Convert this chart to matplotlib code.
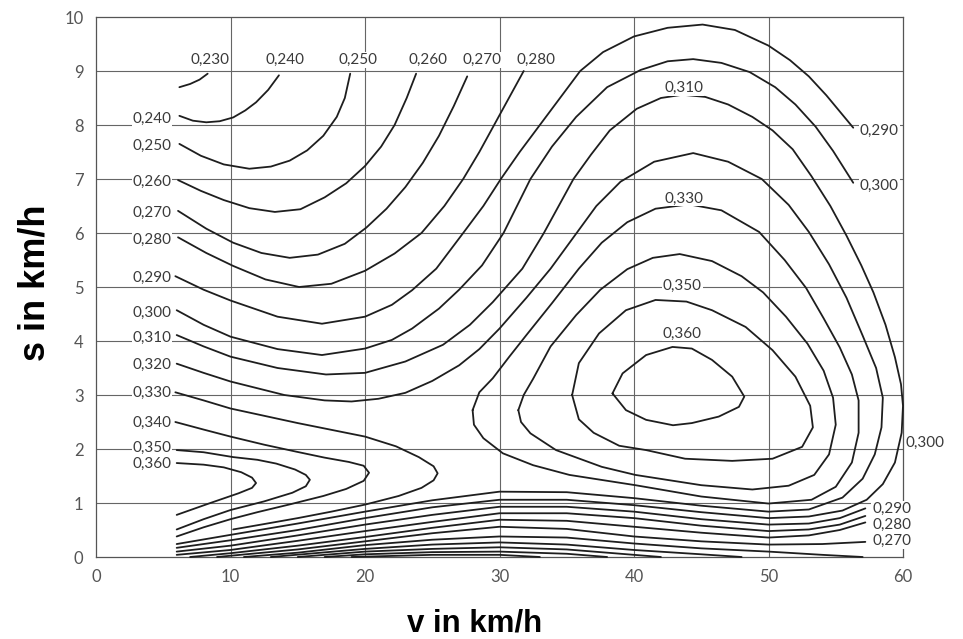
import matplotlib
matplotlib.use("Agg")
import matplotlib.pyplot as plt

plt.rcParams['font.family'] = ['Lato', 'DejaVu Sans']

# contour lines, (v, s) pairs
c230 = [(6.2, 8.70), (7.0, 8.76), (7.7, 8.84), (8.3, 8.95)]
c240 = [(6.2, 8.17), (7.2, 8.08), (8.2, 8.05), (9.2, 8.07), (10.2, 8.14), (11.1, 8.27),
        (11.9, 8.42), (12.8, 8.65), (13.6, 8.92)]
c250 = [(6.2, 7.65), (7.8, 7.43), (9.5, 7.27), (11.4, 7.19), (13.0, 7.23), (14.4, 7.34),
        (15.7, 7.53), (16.9, 7.80), (17.9, 8.15), (18.5, 8.5), (18.9, 8.95)]
c260 = [(6.1, 6.98), (7.8, 6.78), (9.5, 6.61), (11.4, 6.46), (13.3, 6.39), (15.2, 6.44),
        (17.0, 6.66), (18.6, 6.92), (20.0, 7.24), (21.2, 7.6), (22.2, 8.0), (23.1, 8.5), (23.8, 8.95)]
c270 = [(6.1, 6.41), (8.2, 6.08), (10.2, 5.82), (12.3, 5.63), (14.4, 5.54), (16.5, 5.6),
        (18.5, 5.8), (20.1, 6.1), (21.6, 6.45), (23.0, 6.85), (24.3, 7.3), (25.5, 7.8),
        (26.6, 8.35), (27.6, 8.9)]
c280 = [(6.1, 5.92), (8.2, 5.63), (10.2, 5.39), (12.6, 5.14), (15.1, 5.0), (17.5, 5.06),
        (20.0, 5.3), (22.2, 5.62), (24.2, 6.0), (25.9, 6.5), (27.3, 7.0), (28.5, 7.5),
        (29.6, 8.0), (30.7, 8.5), (31.8, 9.0)]
c290 = [(5.9, 5.2), (8.0, 4.95), (10.0, 4.75), (13.5, 4.45), (16.8, 4.32), (20.0, 4.45),
        (22.0, 4.67), (23.5, 4.94), (25.3, 5.34), (27.3, 6.0), (28.8, 6.5), (30.1, 7.0),
        (31.5, 7.5), (33.0, 8.0), (34.5, 8.5), (36.0, 9.0), (37.7, 9.35), (40.0, 9.64),
        (42.5, 9.8), (45.1, 9.86), (47.5, 9.76), (50.0, 9.47), (51.6, 9.2), (53.0, 8.9),
        (54.3, 8.55), (55.4, 8.22), (56.3, 7.95)]
c300 = [(6.0, 4.57), (8.0, 4.3), (10.0, 4.08), (13.5, 3.85), (16.8, 3.74), (20.0, 3.86),
        (22.0, 4.02), (23.5, 4.23), (25.5, 4.6), (27.0, 4.95), (28.7, 5.4), (30.3, 6.0),
        (31.3, 6.5), (32.3, 7.0), (33.9, 7.6), (35.7, 8.15), (38.0, 8.7), (40.5, 9.02),
        (42.5, 9.18), (44.4, 9.22), (46.5, 9.15), (48.6, 8.98), (50.5, 8.7), (52.0, 8.38),
        (53.5, 7.97), (54.8, 7.52), (56.3, 6.93)]
c310 = [(6.0, 4.11), (8.0, 3.9), (10.0, 3.71), (13.5, 3.5), (17.1, 3.38), (20.0, 3.41),
        (23.0, 3.62), (25.8, 3.93), (27.8, 4.3), (29.5, 4.72), (31.7, 5.34), (33.3, 6.0),
        (34.4, 6.5), (35.5, 7.0), (36.8, 7.45), (38.2, 7.9), (40.2, 8.3), (42.0, 8.5),
        (43.6, 8.56), (45.3, 8.52), (47.0, 8.38), (48.8, 8.15), (50.3, 7.9), (51.8, 7.55),
        (53.2, 7.05), (54.6, 6.5), (55.8, 5.95), (56.9, 5.4), (57.8, 4.9), (58.7, 4.3),
        (59.4, 3.7), (59.85, 3.2), (60.0, 2.8), (59.9, 2.3), (59.4, 1.75), (58.5, 1.35),
        (57.3, 1.06), (55.5, 0.86), (53.0, 0.75), (50.0, 0.72), (45.0, 0.83), (40.0, 0.96),
        (35.0, 1.06), (30.0, 1.06), (25.0, 0.92), (20.0, 0.72), (15.0, 0.5), (10.0, 0.31),
        (6.0, 0.17)]
c320 = [(6.0, 3.58), (8.0, 3.41), (10.0, 3.25), (14.0, 3.0), (17.0, 2.9), (19.0, 2.88),
        (21.0, 2.93), (23.0, 3.04), (25.0, 3.26), (27.0, 3.55), (28.5, 3.85), (30.0, 4.23),
        (32.0, 4.8), (33.8, 5.34), (35.5, 5.92), (37.2, 6.5), (39.0, 6.95), (41.5, 7.32),
        (44.4, 7.48), (47.0, 7.32), (49.5, 7.0), (51.5, 6.52), (53.0, 6.02), (54.5, 5.42),
        (55.8, 4.8), (57.0, 4.1), (58.0, 3.5), (58.5, 2.95), (58.4, 2.4), (57.9, 1.9),
        (57.0, 1.45), (55.5, 1.1), (53.0, 0.88), (50.0, 0.84), (45.0, 0.95), (40.0, 1.09),
        (35.0, 1.2), (30.0, 1.21), (25.0, 1.05), (20.0, 0.84), (15.0, 0.62), (10.0, 0.41),
        (6.0, 0.24)]
c330_left = [(5.9, 3.05), (8.0, 2.9), (10.0, 2.75), (15.0, 2.48), (20.0, 2.23), (22.3, 2.05),
             (24.0, 1.85), (25.1, 1.68), (25.4, 1.55), (25.1, 1.42), (24.2, 1.28), (22.5, 1.13),
             (20.0, 0.97), (17.5, 0.84), (15.0, 0.72), (12.5, 0.61), (10.2, 0.51)]
c330_loop = [(28.0, 2.72), (28.5, 3.05), (29.5, 3.31), (30.7, 3.7), (32.0, 4.11), (33.9, 4.7),
             (35.9, 5.34), (37.6, 5.82), (39.5, 6.2), (41.6, 6.45), (44.1, 6.53), (46.5, 6.42),
             (49.3, 6.02), (51.2, 5.5), (52.8, 4.98), (54.1, 4.42), (55.3, 3.88), (56.2, 3.38),
             (56.7, 2.9), (56.7, 2.3), (56.2, 1.75), (55.0, 1.3), (53.2, 1.06), (50.0, 0.99),
             (45.0, 1.12), (40.1, 1.33), (35.2, 1.52), (32.5, 1.7), (30.25, 1.92), (28.8, 2.2),
             (28.1, 2.45), (28.0, 2.72)]
c340_left = [(5.9, 2.5), (8.0, 2.36), (10.0, 2.23), (12.5, 2.08), (14.9, 1.95), (17.0, 1.84),
             (18.8, 1.76), (19.9, 1.69), (20.3, 1.56), (19.9, 1.41), (18.6, 1.26), (16.9, 1.13),
             (14.5, 0.98), (12.0, 0.83), (10.0, 0.7), (8.0, 0.55), (6.0, 0.38)]
c340_loop = [(31.4, 2.72), (31.8, 3.0), (32.5, 3.3), (33.8, 3.9), (35.7, 4.48), (37.5, 4.95),
             (39.5, 5.33), (41.4, 5.54), (43.4, 5.61), (45.8, 5.48), (48.0, 5.2), (49.6, 4.9),
             (51.3, 4.45), (52.9, 3.95), (54.1, 3.45), (54.8, 2.95), (55.0, 2.45), (54.5, 1.9),
             (53.4, 1.52), (51.5, 1.32), (48.8, 1.25), (45.0, 1.33), (40.1, 1.52), (37.6, 1.67),
             (34.2, 1.98), (32.3, 2.29), (31.6, 2.5), (31.4, 2.72)]
c350_left = [(6.0, 1.98), (8.0, 1.94), (10.2, 1.85), (12.0, 1.8), (13.4, 1.73), (14.8, 1.62),
             (15.6, 1.52), (15.9, 1.43), (15.6, 1.31), (14.6, 1.19), (12.5, 1.03), (10.0, 0.87),
             (8.0, 0.7), (6.0, 0.51)]
c350_loop = [(35.4, 3.0), (35.9, 3.59), (37.4, 4.14), (39.4, 4.57), (41.6, 4.76), (43.9, 4.73),
             (45.8, 4.57), (48.3, 4.26), (50.3, 3.83), (52.0, 3.34), (53.1, 2.8), (53.3, 2.4),
             (52.5, 2.04), (50.3, 1.82), (47.3, 1.78), (43.8, 1.82), (40.9, 1.98), (38.9, 2.06),
             (37.0, 2.3), (35.9, 2.55), (35.4, 3.0)]
c360_left = [(6.0, 1.74), (8.0, 1.71), (9.5, 1.66), (10.8, 1.57), (11.6, 1.47), (11.9, 1.37),
             (11.6, 1.28), (10.6, 1.18), (8.5, 1.0), (6.0, 0.78)]
c360_loop = [(38.4, 3.03), (39.15, 3.40), (40.9, 3.74), (42.86, 3.89), (44.3, 3.86), (45.8, 3.65),
             (47.3, 3.34), (48.2, 2.97), (47.8, 2.78), (46.3, 2.60), (44.3, 2.48), (42.9, 2.44),
             (40.9, 2.54), (39.4, 2.72), (38.4, 3.03)]
# lines along the bottom edge
low290 = [(6.0, 0.10), (10.0, 0.21), (15.0, 0.4), (20.0, 0.6), (25.0, 0.78), (30.0, 0.93),
          (35.0, 0.93), (40.0, 0.84), (45.0, 0.7), (50.0, 0.6), (53.0, 0.62), (55.3, 0.72), (57.2, 0.9)]
low280a = [(6.0, 0.04), (10.0, 0.13), (15.0, 0.3), (20.0, 0.48), (25.0, 0.65), (30.0, 0.81),
           (35.0, 0.81), (40.0, 0.72), (45.0, 0.58), (50.0, 0.48), (53.0, 0.51), (55.3, 0.6), (57.2, 0.76)]
low280b = [(7.0, 0.0), (10.0, 0.07), (15.0, 0.21), (20.0, 0.37), (25.0, 0.54), (30.0, 0.69),
           (35.0, 0.67), (40.0, 0.56), (45.0, 0.45), (50.0, 0.36), (53.0, 0.4), (55.3, 0.5), (57.2, 0.64)]
low270 = [(9.0, 0.0), (15.0, 0.14), (20.0, 0.29), (25.0, 0.44), (30.0, 0.56), (35.0, 0.52),
          (40.0, 0.38), (45.0, 0.29), (50.0, 0.23), (54.0, 0.24), (57.2, 0.28)]
low_a = [(11.0, 0.0), (15.0, 0.08), (20.0, 0.22), (25.0, 0.32), (30.0, 0.38), (35.0, 0.36),
         (40.0, 0.25), (45.0, 0.16), (50.0, 0.1), (54.0, 0.04), (57.0, 0.0)]
low_b = [(13.0, 0.0), (20.0, 0.15), (25.0, 0.23), (30.0, 0.27), (35.0, 0.23), (40.0, 0.13),
         (45.0, 0.05), (48.0, 0.0)]
low_c = [(15.0, 0.0), (20.0, 0.1), (25.0, 0.15), (30.0, 0.18), (35.0, 0.14), (40.0, 0.04), (42.0, 0.0)]
low_d = [(17.0, 0.0), (20.0, 0.05), (25.0, 0.09), (30.0, 0.1), (35.0, 0.06), (38.0, 0.0)]
low_e = [(19.0, 0.0), (25.0, 0.04), (30.0, 0.04), (33.0, 0.0)]

lines = [c230, c240, c250, c260, c270, c280, c290, c300, c310, c320,
         c330_left, c330_loop, c340_left, c340_loop, c350_left, c350_loop,
         c360_left, c360_loop, low290, low280a, low280b, low270,
         low_a, low_b, low_c, low_d, low_e]

# contour labels
left_labels = [("0,240", 8.11), ("0,250", 7.61), ("0,260", 6.94), ("0,270", 6.37),
               ("0,280", 5.87), ("0,290", 5.17), ("0,300", 4.52), ("0,310", 4.06),
               ("0,320", 3.56), ("0,330", 3.04), ("0,340", 2.48), ("0,350", 2.02),
               ("0,360", 1.72)]
top_labels = [("0,230", 8.46), ("0,240", 14.03), ("0,250", 19.45), ("0,260", 24.7),
              ("0,270", 28.7), ("0,280", 32.7)]
inner_labels = [("0,310", 43.7, 8.69), ("0,330", 43.7, 6.64), ("0,350", 43.6, 5.02),
                ("0,360", 43.6, 4.14)]
right_labels = [("0,290", 56.8, 7.9), ("0,300", 56.8, 6.87), ("0,300", 60.2, 2.11),
                ("0,290", 57.7, 0.89), ("0,280", 57.7, 0.59), ("0,270", 57.7, 0.30)]

xticks = [0, 10, 20, 30, 40, 50, 60]
yticks = list(range(0, 11))

fig = plt.figure(figsize=(9.63, 6.39), dpi=100)
ax = fig.add_axes([96 / 963, 1 - 557 / 639, 807 / 963, 540 / 639])
ax.set_xlim(0, 60)
ax.set_ylim(0, 10)

for v in xticks[1:-1]:
    ax.axvline(v, color="#666666", lw=0.8, zorder=1)
for s in yticks[1:-1]:
    ax.axhline(s, color="#666666", lw=0.8, zorder=1)

for pts in lines:
    xs = [p[0] for p in pts]
    ys = [p[1] for p in pts]
    ax.plot(xs, ys, color="#1e1e1e", lw=1.3, zorder=3, clip_on=False,
            solid_joinstyle="round", solid_capstyle="round")

lab = dict(fontsize=11, color="#3a3a3a", zorder=4, va="center", clip_on=False,
           bbox=dict(facecolor="white", edgecolor="none", pad=0.6))
for t, s in left_labels:
    ax.text(5.6, s, t, ha="right", **lab)
for t, v in top_labels:
    ax.text(v, 9.2, t, ha="center", **lab)
for t, v, s in inner_labels:
    ax.text(v, s, t, ha="center", **lab)
for t, v, s in right_labels:
    ax.text(v, s, t, ha="left", **lab)

ax.set_xticks(xticks)
ax.set_yticks(yticks)
ax.tick_params(length=0, pad=9, labelsize=12, labelcolor="#555555")
for sp in ax.spines.values():
    sp.set_color("#555555")
    sp.set_linewidth(0.9)

fig.text(0.036, 1 - 283 / 639, "s in km/h", rotation=90, ha="center", va="center",
         fontsize=26, fontweight="bold", family="Liberation Sans", color="black")
fig.text(475 / 963, 1 / 639, "v in km/h", ha="center", va="bottom",
         fontsize=22.5, fontweight="bold", family="Liberation Sans", color="black")

fig.savefig("out.png", dpi=100, facecolor="white")
